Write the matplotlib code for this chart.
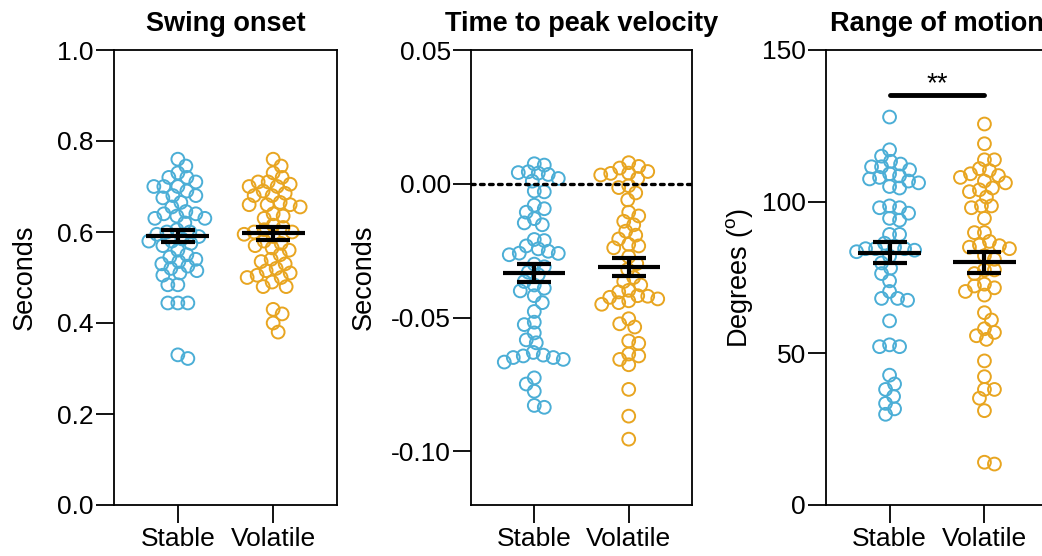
import numpy as np
import matplotlib
matplotlib.use("Agg")
import matplotlib.pyplot as plt

plt.rcParams['font.family'] = ['Liberation Sans', 'DejaVu Sans']
plt.rcParams['axes.unicode_minus'] = False
plt.rcParams['mathtext.fontset'] = 'custom'
plt.rcParams['mathtext.rm'] = 'Liberation Sans'

# ---------------- data ----------------
groups = ["Stable", "Volatile"]
titles = ["Swing onset", "Time to peak velocity", "Range of motion"]
ylabels = ["Seconds", "Seconds", "Degrees ($^{\\mathrm{o}}$)"]

swing_stable = [0.76, 0.745, 0.73, 0.72, 0.72, 0.71, 0.70, 0.70, 0.70, 0.69, 0.68, 0.68,
                0.675, 0.665, 0.655, 0.645, 0.64, 0.64, 0.635, 0.63, 0.63, 0.62, 0.605,
                0.60, 0.60, 0.595, 0.59, 0.585, 0.58, 0.58, 0.575, 0.57, 0.56, 0.55, 0.545,
                0.54, 0.535, 0.53, 0.525, 0.52, 0.515, 0.51, 0.505, 0.484, 0.484, 0.444,
                0.444, 0.444, 0.33, 0.322]
swing_volatile = [0.76, 0.745, 0.73, 0.72, 0.71, 0.71, 0.705, 0.70, 0.70, 0.69, 0.685,
                  0.68, 0.68, 0.665, 0.66, 0.66, 0.66, 0.655, 0.64, 0.635, 0.63, 0.615,
                  0.61, 0.605, 0.60, 0.60, 0.595, 0.59, 0.58, 0.575, 0.57, 0.565, 0.56,
                  0.55, 0.54, 0.535, 0.53, 0.52, 0.515, 0.51, 0.505, 0.50, 0.50, 0.49,
                  0.48, 0.48, 0.43, 0.42, 0.40, 0.38]

peak_stable = [0.007, 0.0075, 0.0045, 0.004, 0.0042, 0.0035, 0.002, 0.001, -0.003, -0.0027,
               -0.008, -0.0093, -0.0106, -0.013, -0.0146, -0.0153, -0.0208, -0.0212,
               -0.0232, -0.0243, -0.0252, -0.0259, -0.026, -0.0265, -0.030, -0.031, -0.033,
               -0.034, -0.0365, -0.0378, -0.039, -0.040, -0.0418, -0.0444, -0.0477, -0.0517,
               -0.0526, -0.0557, -0.0583, -0.0594, -0.063, -0.064, -0.0643, -0.0649, -0.0649,
               -0.0656, -0.0666, -0.0725, -0.0748, -0.0775, -0.0828, -0.0835]
peak_volatile = [0.0079, 0.0065, 0.0059, 0.0046, 0.004, 0.0039, 0.0033, 0.002, -0.0007,
                 -0.0014, -0.0034, -0.006, -0.0106, -0.012, -0.014, -0.0153, -0.0177,
                 -0.0192, -0.0206, -0.0226, -0.0232, -0.0239, -0.0272, -0.0298, -0.032,
                 -0.035, -0.0365, -0.0378, -0.0398, -0.0404, -0.0418, -0.042, -0.0424,
                 -0.043, -0.0437, -0.0444, -0.045, -0.0504, -0.0523, -0.0535, -0.0587,
                 -0.0596, -0.0636, -0.0643, -0.0656, -0.0676, -0.0768, -0.0868, -0.0954]

rom_stable = [127.9, 117.1, 115.0, 113.3, 112.4, 111.5, 111.5, 110.5, 109.2, 108.5, 108.0,
              107.5, 106.8, 106.2, 105.0, 104.5, 98.6, 98.0, 98.0, 96.2, 94.5, 93.9, 89.2,
              89.2, 86.3, 85.0, 84.5, 84.5, 84.5, 84.0, 83.5, 82.0, 79.8, 78.1, 76.3, 73.9,
              70.4, 68.1, 68.1, 67.5, 60.7, 52.8, 52.2, 52.2, 42.8, 39.9, 38.1, 35.8, 33.5,
              31.7, 29.9]
rom_volatile = [125.6, 119.1, 113.8, 113.8, 110.9, 110.3, 109.2, 108.6, 108.0, 106.8, 106.2,
                104.5, 103.9, 103.3, 101.5, 98.6, 98.6, 98.0, 94.5, 89.8, 89.8, 86.9, 85.7,
                85.5, 85.0, 84.5, 82.2, 81.0, 77.5, 77.5, 76.3, 72.8, 72.2, 71.6, 70.4, 69.2,
                63.4, 61.0, 58.1, 56.9, 55.8, 54.6, 47.5, 42.3, 38.1, 38.1, 35.2, 31.1, 14.1,
                13.5]

swing_mean = [0.591, 0.597]
swing_sem = [0.0125, 0.014]
peak_mean = [-0.0332, -0.0312]
peak_sem = [0.0033, 0.0033]
rom_mean = [83.2, 80.0]
rom_sem = [3.4, 3.55]

sig_label = "**"
sig_height = 135

# ---------------- style ----------------
colors = ['#4BAED6', '#E8A520']
W, H = 1042, 556
fig = plt.figure(figsize=(W / 100, H / 100), dpi=100)

def box(l, r, t, b):
    return [l / W, 1 - b / H, (r - l) / W, (b - t) / H]

axes = [fig.add_axes(box(114, 337, 50, 505)),
        fig.add_axes(box(471, 692, 50, 505)),
        fig.add_axes(box(826, 1048, 50, 505))]

ylims = [(0, 1.0), (-0.12, 0.05), (0, 150)]
yticks = [[0, 0.2, 0.4, 0.6, 0.8, 1.0], [-0.10, -0.05, 0.0, 0.05], [0, 50, 100, 150]]
yfmt = ["{:.1f}", "{:.2f}", "{:.0f}"]
label_x = [-0.40, -0.485, -0.39]
datasets = [(swing_stable, swing_volatile), (peak_stable, peak_volatile),
            (rom_stable, rom_volatile)]
means = [swing_mean, peak_mean, rom_mean]
sems = [swing_sem, peak_sem, rom_sem]


def swarm_x(ax, x0, vals, d=10.0, maxw=33):
    vals = np.asarray(vals, float)
    pts = ax.transData.transform(np.column_stack([np.full(len(vals), x0), vals]))
    ys = pts[:, 1]
    xc = pts[0, 0]
    cands = np.arange(-maxw, maxw + 0.5, 1.0)
    cands = cands[np.argsort(np.abs(cands) + 0.01 * (cands > 0))]
    order = np.argsort(-ys)
    placed_x, placed_y = [], []
    offs = np.zeros(len(vals))
    flip = 1
    for i in order:
        best = None
        bestc, bests = 0.0, -1
        for c in cands * flip:
            if placed_x:
                dist = np.min(np.hypot(c - np.array(placed_x), ys[i] - np.array(placed_y)))
            else:
                dist = np.inf
            if dist >= d:
                best = c
                break
            if dist > bests:
                bests, bestc = dist, c
        offs[i] = best if best is not None else bestc
        flip = -flip
        placed_x.append(offs[i])
        placed_y.append(ys[i])
    xd = ax.transData.inverted().transform(np.column_stack([xc + offs, ys]))[:, 0]
    return xd


for k, ax in enumerate(axes):
    ax.set_xlim(-0.67, 1.67)
    ax.set_ylim(*ylims[k])
    ax.set_yticks(yticks[k])
    ax.set_yticklabels([yfmt[k].format(v) for v in yticks[k]])
    ax.set_xticks([0, 1])
    ax.set_xticklabels(groups)
    for sp in ax.spines.values():
        sp.set_linewidth(1.3)
    ax.tick_params(direction='out', length=13, width=1.3, labelsize=19, pad=1.5)
    ax.tick_params(axis='x', pad=3)
    ax.set_title(titles[k], fontsize=19.5, fontweight='bold', pad=14)
    ax.set_ylabel(ylabels[k], fontsize=19.5)
    ax.yaxis.set_label_coords(label_x[k], 0.5)
    ax.yaxis.label.set_va('center')

    for g in range(2):
        vals = datasets[k][g]
        xs = swarm_x(ax, g, vals)
        ax.scatter(xs, vals, s=85, facecolors='none', edgecolors=colors[g],
                   linewidths=1.4, zorder=2, clip_on=False)
        m, s = means[k][g], sems[k][g]
        ax.hlines(m, g - 0.33, g + 0.33, colors='black', linewidth=3, zorder=4)
        ax.errorbar([g], [m], yerr=[s], fmt='none', ecolor='black', elinewidth=3,
                    capsize=12, capthick=3, zorder=4)

# zero reference line in panel 2
axes[1].axhline(0, color='black', linewidth=2.4, linestyle=(0, (1.1, 1.6)),
                dash_capstyle='round', zorder=3)

# significance marker in panel 3
axes[2].plot([0, 1], [sig_height, sig_height], color='black', linewidth=3.5,
             solid_capstyle='round', zorder=4)
axes[2].text(0.5, sig_height - 0.5, sig_label, ha='center', va='bottom', fontsize=20)

fig.savefig("out.png", dpi=100)
